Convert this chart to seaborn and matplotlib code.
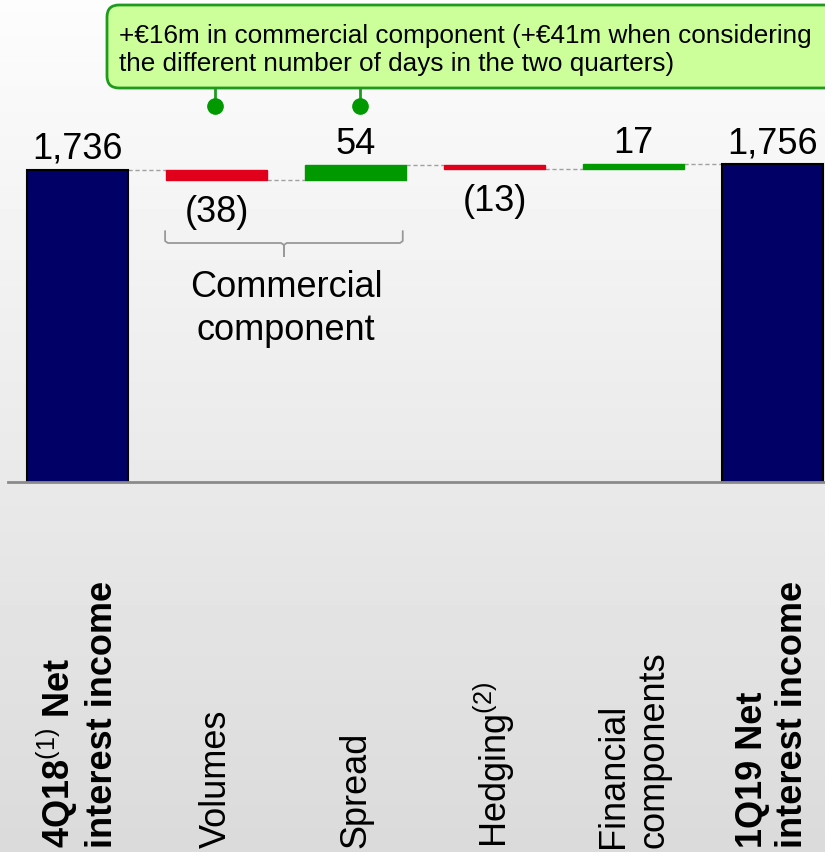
import numpy as np
import pandas as pd
import matplotlib
matplotlib.use("Agg")
import matplotlib.pyplot as plt
import seaborn as sns
from matplotlib.patches import FancyBboxPatch
from matplotlib.transforms import blended_transform_factory

# ---- data -------------------------------------------------------------
categories = ["4Q18 Net interest income", "Volumes", "Spread", "Hedging",
              "Financial components", "1Q19 Net interest income"]
tick_labels = ["4Q18$^{\\mathrm{(1)}}$ Net\ninterest income", "Volumes", "Spread",
               "Hedging$^{\\mathrm{(2)}}$", "Financial\ncomponents",
               "1Q19 Net\ninterest income"]
bold_labels = [True, False, False, False, False, True]
values = [1736, -38, 54, -13, 17, 1756]
is_total = [True, False, False, False, False, True]
value_labels = ["1,736", "(38)", "54", "(13)", "17", "1,756"]
callout_text = ("+€16m in commercial component (+€41m when considering\n"
                "the different number of days in the two quarters)")
group_label = "Commercial\ncomponent"

# ---- waterfall levels ---------------------------------------------------
starts, ends = [], []
level = 0
for v, tot in zip(values, is_total):
    if tot:
        starts.append(0)
        level = v
    else:
        starts.append(level)
        level += v
    ends.append(level)

df = pd.DataFrame({"category": categories, "value": values,
                   "start": starts, "end": ends, "total": is_total})

# ---- style --------------------------------------------------------------
sns.set_theme(style="white")
plt.rcParams["font.family"] = ["Liberation Sans", "DejaVu Sans"]
plt.rcParams["mathtext.fontset"] = "custom"
plt.rcParams["mathtext.rm"] = "Liberation Sans"
plt.rcParams["mathtext.it"] = "Liberation Sans:italic"
plt.rcParams["mathtext.bf"] = "Liberation Sans:bold"

W, H = 825, 853
fig = plt.figure(figsize=(W / 100, H / 100), dpi=100)

# soft vertical gradient behind everything
bg = fig.add_axes([0, 0, 1, 1], zorder=0)
grad = np.linspace(0.99, 0.856, 256)[:, None]
bg.imshow(grad, cmap="gray", vmin=0, vmax=1, aspect="auto",
          extent=[0, 1, 0, 1], origin="upper")
bg.axis("off")

# main plotting area
base_px = 483
ax = fig.add_axes([8 / W, 1 - base_px / H, (W - 8) / W, base_px / H], zorder=1)
ax.set_facecolor("none")

# pixel overlay for call-outs
ov = fig.add_axes([0, 0, 1, 1], zorder=3)
ov.set_xlim(0, W)
ov.set_ylim(H, 0)
ov.axis("off")
ov.set_facecolor("none")

bar_w = 0.72
navy, red, green = "#000066", "#e0001b", "#009a00"

tot_df = df[df.total]
sns.barplot(data=tot_df, x="category", y="end", order=categories,
            color=navy, saturation=1, edgecolor="black", linewidth=1.5,
            width=bar_w, ax=ax, zorder=2)

fl = df[~df.total]
pos = [categories.index(c) for c in fl.category]
ax.bar(pos, fl.end - fl.start, bottom=fl.start, width=bar_w,
       color=[red if v < 0 else green for v in fl.value],
       edgecolor=[red if v < 0 else green for v in fl.value],
       linewidth=1.0, zorder=2)

# dashed connectors between consecutive bars
for i in range(len(categories) - 1):
    ax.plot([i + bar_w / 2, i + 1 - bar_w / 2], [ends[i], ends[i]],
            ls=(0, (3, 2)), color="#a0a0a0", lw=1, zorder=1)

ax.set_xlim(-0.5, -0.5 + (W - 8) / 139)
ax.set_ylim(604, 604 + base_px / 0.276)
ax.set_xlabel("")
ax.set_ylabel("")
ax.set_yticks([])
ax.set_xticks(range(len(categories)))
ax.set_xticklabels([])
ax.tick_params(length=0)
for s in ["top", "left", "right"]:
    ax.spines[s].set_visible(False)
ax.spines["bottom"].set_color("#8a8a8a")
ax.spines["bottom"].set_linewidth(2)

# value labels
for i, (s, e, lab) in enumerate(zip(starts, ends, value_labels)):
    if values[i] >= 0:
        ax.annotate(lab, (i, max(s, e)), xytext=(0, 12), textcoords="offset pixels",
                    ha="center", va="baseline", fontsize=26, color="black")
    else:
        ax.annotate(lab, (i, min(s, e)), xytext=(0, -41), textcoords="offset pixels",
                    ha="center", va="baseline", fontsize=26, color="black")

mixed = blended_transform_factory(ax.transData, ov.transData)

# brace grouping Volumes and Spread
x0, x1, xc = 0.63, 2.34, 1.485
brace_x = [x0, x0, x0 + 0.02, xc - 0.02, xc, xc, xc, xc + 0.02, x1 - 0.02, x1, x1]
brace_y = [232, 242, 244, 244, 246, 257, 246, 244, 244, 242, 232]
ax.plot(brace_x, brace_y, color="#999999", lw=1.3, transform=mixed, clip_on=False)
ax.text(1.5, 309, group_label, transform=mixed, ha="center", va="center",
        fontsize=26, linespacing=1.3, color="black")

# category labels, written upward from the bottom edge
for i, (lab, b) in enumerate(zip(tick_labels, bold_labels)):
    ax.text(i, 848, lab, transform=mixed, rotation=90, ha="center", va="bottom",
            ma="left", fontsize=26, fontweight="bold" if b else "normal",
            linespacing=1.2, color="black")

# call-out box
box = FancyBboxPatch((107, 6), 760, 83, boxstyle="round,pad=0,rounding_size=12",
                     fc="#ccff99", ec="#1f9a1f", lw=2, zorder=2)
ov.add_patch(box)
ov.text(119, 50, callout_text, ha="left", va="center", fontsize=18.8,
        linespacing=1.2, color="black", zorder=3)
for xp in (215, 360):
    ov.plot([xp, xp], [89, 106], color="#1f9a1f", lw=2, zorder=2)
    ov.plot([xp], [107], marker="o", ms=11, color="#009a00", mec="#009a00", zorder=3)

fig.savefig("out.png", dpi=100)
